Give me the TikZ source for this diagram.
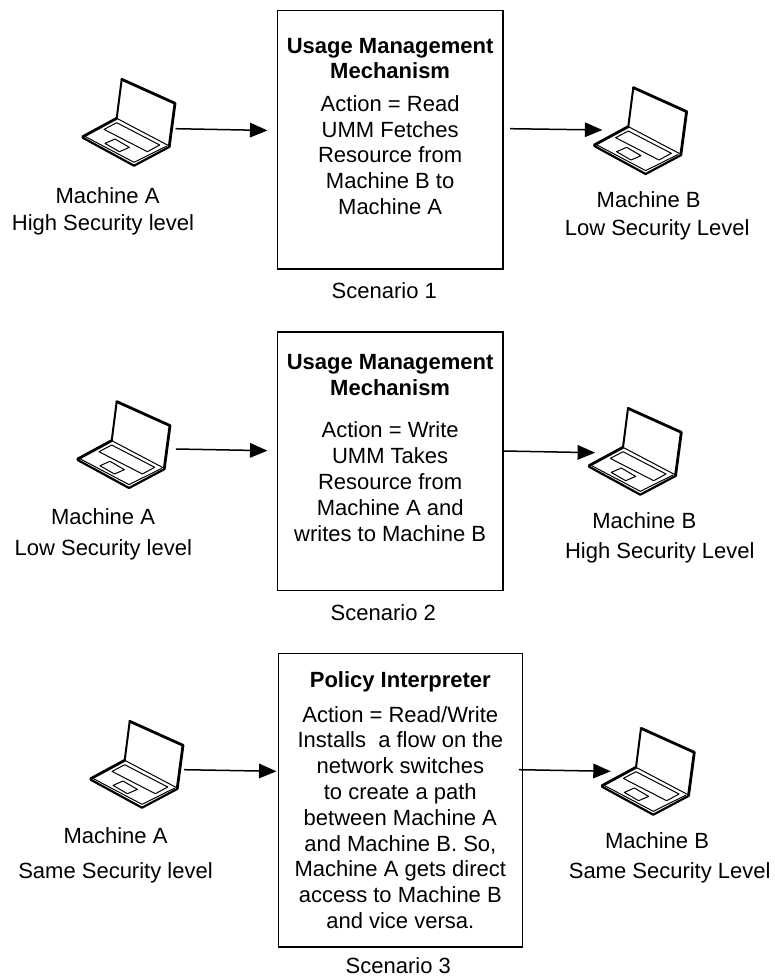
\documentclass[tikz,border=0pt]{standalone}
\usepackage{fontspec}
\setmainfont{Liberation Sans}
\usetikzlibrary{calc,arrows.meta}
\tikzset{
  x=1pt,y=-1pt,
  boxst/.style={draw=black,line width=1.6pt,align=center,inner sep=0pt,font=\fontsize{22}{25.8}\selectfont,minimum height=#1},
  lab/.style={anchor=base,inner sep=0pt,font=\fontsize{22}{25.8}\selectfont},
  lapnode/.style={inner sep=0pt,minimum width=92.3pt,minimum height=86pt},
  arr/.style={line width=1.5pt,-{Triangle[length=17.5pt,width=14.5pt]}},
  thk/.style={line width=2.8pt,line join=round,line cap=round},
  thn/.style={line width=1pt,line join=round}
}
\newcommand{\laptop}[3]{%
  \node[lapnode] (#1) at (#2+46.15,#3-14.5) {};
  \begin{scope}[shift={(#2,#3)}]
    \draw[thk] (34,-18.4) -- (0,0);
    \draw[line width=2pt,line cap=round] (34,-18.4) -- (39,-57.4);
    \draw[thk] (39,-57.4) -- (92.3,-33.4) -- (86.6,9.3);
    \draw[thn] (34,-18.4) -- (86.6,9.3);
    \draw[line width=2.2pt,line join=round,line cap=round] (0,1) -- (51.3,29) -- (87,10);
    \draw[thn] (2,-0.4) -- (51.3,25.6) -- (84,9.4);
    \draw[thn] (21.3,-7.3) -- (34,-14) -- (77,8.3) -- (64.7,15) -- cycle;
    \draw[thn] (22.3,6.7) -- (32.3,2.3) -- (46.7,10.7) -- (36.7,15) -- cycle;
  \end{scope}}
\begin{document}
\begin{tikzpicture}
\path[use as bounding box] (0,0) rectangle (774,977);
% Scenario 1
\laptop{la1}{82.7}{136.7}
\laptop{lb1}{594.3}{145}
\node[boxst=258.7pt,minimum width=225.7pt] (b1) at (390.15,139.65) {\textbf{Usage Management}\\\textbf{Mechanism}\\[6.6pt]Action = Read\\UMM Fetches\\Resource from\\Machine B to\\Machine A\rule[-27pt]{0pt}{1pt}};
\node[lab] (t1a) at (107.5,203.3) {Machine A};
\node[lab] (t1b) at (103,230) {High Security level};
\node[lab] (t1c) at (648.7,207.3) {Machine B};
\node[lab] (t1d) at (657.2,235.7) {Low Security Level};
\node[lab] (s1) at (384.3,298) {Scenario 1};
\draw[arr] ($(la1.east)+(0.3,6.5)$) -- ($(b1.west)+(-9,-9.2)$);
\draw[arr] ($(b1.east)+(6.3,-10.95)$) -- ($(lb1.west)+(8.3,-0.5)$);
% Scenario 2
\laptop{la2}{77.7}{459}
\laptop{lb2}{589}{465.7}
\node[boxst=258.3pt,minimum width=225.7pt] (b2) at (390.15,461.15) {\textbf{Usage Management}\\\textbf{Mechanism}\\[17pt]Action = Write\\UMM Takes\\Resource from\\Machine A and\\writes to Machine B\rule[-27pt]{0pt}{1pt}};
\node[lab] (t2a) at (103,524) {Machine A};
\node[lab] (t2b) at (103.3,555) {Low Security level};
\node[lab] (t2c) at (644.3,528.3) {Machine B};
\node[lab] (t2d) at (659.8,558.3) {High Security Level};
\node[lab] (s2) at (383.3,620) {Scenario 2};
\draw[arr] ($(la2.east)+(5.7,4.5)$) -- ($(b2.west)+(-9,-10.45)$);
\draw[arr] ($(b2.east)+(-0.3,-10.15)$) -- ($(lb2.west)+(6.3,1.5)$);
% Scenario 3
\laptop{la3}{90.7}{778.7}
\laptop{lb3}{602}{785.7}
\node[boxst=293.7pt,minimum width=244pt] (b3) at (400.3,800.15) {\textbf{Policy Interpreter}\\[8.7pt]Action = Read/Write\\Installs\ \ a flow on the\\network switches\\to create a path\\between Machine A\\and Machine B. So,\\Machine A gets direct\\access to Machine B\\and vice versa.};
\node[lab] (t3a) at (115.5,843.3) {Machine A};
\node[lab] (t3b) at (115.5,878.3) {Same Security level};
\node[lab] (t3c) at (657,848.3) {Machine B};
\node[lab] (t3d) at (669.7,878.3) {Same Security Level};
\node[lab] (s3) at (398.3,973.3) {Scenario 3};
\draw[arr] ($(la3.east)+(1,5.5)$) -- ($(b3.west)+(-1,-28.85)$);
\draw[arr] ($(b3.east)+(-4.3,-30.45)$) -- ($(lb3.west)+(9,0.1)$);
\end{tikzpicture}
\end{document}
